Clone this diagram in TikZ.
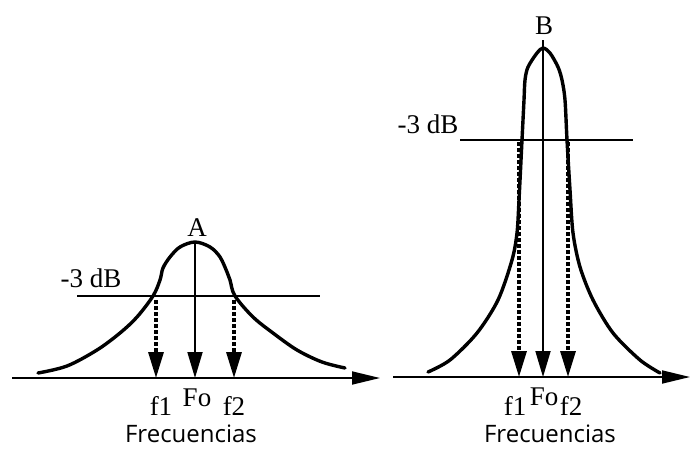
\documentclass[tikz,border=0pt]{standalone}
\usepackage{fontspec}
\setmainfont{Liberation Serif}
\newfontfamily\labsans{Open Sans}
\usetikzlibrary{arrows.meta}
\begin{document}
\begin{tikzpicture}[x=1pt,y=-1pt,
  curve/.style={line width=3.4pt,line join=round,line cap=round},
  axisline/.style={line width=1.8pt,-{Triangle[length=28pt,width=13pt]}},
  levelline/.style={line width=1.2pt},
  centerarrow/.style={line width=1.8pt,-{Triangle[length=26pt,width=15pt]}},
  dasharrow/.style={line width=3.2pt,dash pattern=on 3.5pt off 2.5pt,-{Triangle[length=26pt,width=15pt]}},
  serlab/.style={font=\fontsize{27}{27}\selectfont,inner sep=0pt},
  freqlab/.style={font=\labsans\fontsize{24}{24}\selectfont,inner sep=0pt,anchor=base}]
\useasboundingbox (0,0) rectangle (690,450);
% ---------- left diagram (A) ----------
\coordinate (axA0) at (12,378);
\coordinate (axA1) at (380,378);
\draw[axisline] (axA0) -- (axA1);
\draw[curve] plot[smooth,tension=0.55] coordinates {
 (38,373) (67,366) (97,350) (120,333) (137,317) (153,296) (160,280) (163,268)
 (170,257) (180,247) (195,242) (210,247) (220,257) (227,272) (230,280) (235,296)
 (253,317) (273,333) (297,350) (322,362) (345,368)};
\coordinate (lvA0) at (77,296);
\coordinate (lvA1) at (320,296);
\draw[levelline] (lvA0) -- (lvA1);
\coordinate (cA0) at (195,242);
\coordinate (cA1) at (195,378);
\draw[centerarrow] (cA0) -- (cA1);
\coordinate (dA10) at (156,300);
\coordinate (dA11) at (156,378);
\draw[dasharrow] (dA10) -- (dA11);
\coordinate (dA20) at (234,300);
\coordinate (dA21) at (234,378);
\draw[dasharrow] (dA20) -- (dA21);
\node[serlab] (dbA) at (91,278) {-3 dB};
\node[serlab] (labA) at (197,228) {A};
\node[serlab] (f1A) at (161,406) {f1};
\node[serlab] (foA) at (197,398) {Fo};
\node[serlab] (f2A) at (234,406) {f2};
\node[freqlab] (frA) at (191,442) {Frecuencias};
% ---------- right diagram (B) ----------
\coordinate (axB0) at (393,377);
\coordinate (axB1) at (690,377);
\draw[axisline] (axB0) -- (axB1);
\draw[curve] plot[smooth,tension=0.5] coordinates {
 (428,372) (450,360) (477,333) (498,300) (512,260) (517,233) (519,200) (522,140)
 (524,100) (525,80) (528,67) (537,53) (543,48) (550,53) (558,67) (562,80)
 (565,100) (567,140) (570,190) (573,233) (580,267) (593,300) (613,333) (640,360) (660,373)};
\coordinate (lvB0) at (460,140);
\coordinate (lvB1) at (633,140);
\draw[levelline] (lvB0) -- (lvB1);
\coordinate (cB0) at (543,40);
\coordinate (cB1) at (543,377);
\draw[centerarrow] (cB0) -- (cB1);
\coordinate (dB10) at (519,142);
\coordinate (dB11) at (519,377);
\draw[dasharrow] (dB10) -- (dB11);
\coordinate (dB20) at (568,142);
\coordinate (dB21) at (568,377);
\draw[dasharrow] (dB20) -- (dB21);
\node[serlab] (dbB) at (428,124) {-3 dB};
\node[serlab] (labB) at (544,26) {B};
\node[serlab] (f1B) at (515,406) {f1};
\node[serlab] (foB) at (544,397) {Fo};
\node[serlab] (f2B) at (571,406) {f2};
\node[freqlab] (frB) at (550,442) {Frecuencias};
\end{tikzpicture}
\end{document}
